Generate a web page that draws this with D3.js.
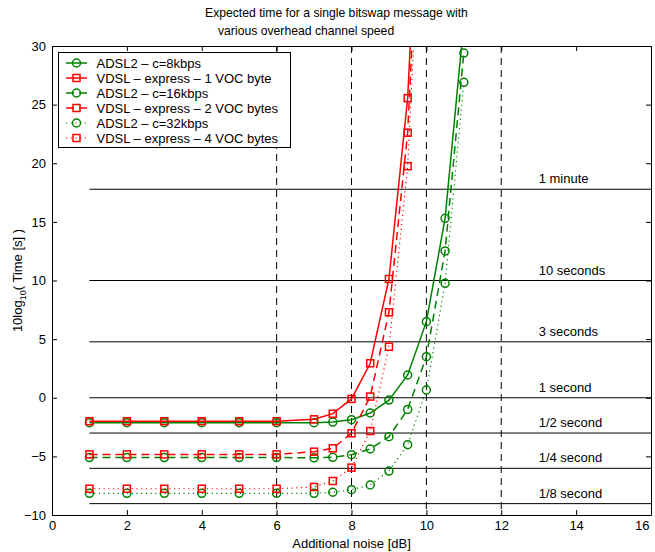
<!DOCTYPE html>
<html lang="en">
<head>
<meta charset="UTF-8">
<title>Expected time for a single bitswap message</title>
<style>
  body { margin: 0; background: #fff; }
  svg { display: block; font-family: "Liberation Sans", Arial, sans-serif; }
  .axis text { font-size: 13px; fill: #000; }
  .axis path, .axis line { stroke: #000; }
</style>
</head>
<body>
<svg id="chart"></svg>
<script src="https://d3js.org/d3.v7.min.js"></script>
<script>
// noise points (dB)
const adslNoise = [1, 2, 3, 4, 5, 6, 7, 7.5, 8, 8.5, 9, 9.5, 10, 10.5, 11];
const vdslNoise = [1, 2, 3, 4, 5, 6, 7, 7.5, 8, 8.5, 9, 9.5, 10];

// 10log10(time) values
const adsl8k  = [-2.13, -2.13, -2.13, -2.13, -2.13, -2.13, -2.13, -2.07, -1.87, -1.3, -0.2, 1.94, 6.49, 15.3, 32];
const adsl16k = [-5.1, -5.1, -5.1, -5.1, -5.1, -5.1, -5.12, -5.08, -4.86, -4.37, -3.32, -1.0, 3.5, 12.52, 29.4];
const adsl32k = [-8.15, -8.15, -8.15, -8.15, -8.15, -8.15, -8.15, -8.06, -7.84, -7.44, -6.25, -4.0, 0.66, 9.76, 26.9];
const vdsl1 = [-2.0, -2.0, -2.0, -2.0, -2.0, -2.0, -1.84, -1.36, -0.1, 2.94, 10.13, 25.55, 58];
const vdsl2 = [-4.83, -4.83, -4.83, -4.83, -4.83, -4.83, -4.6, -4.31, -3.03, 0.1, 7.29, 22.6, 55];
const vdsl4 = [-7.76, -7.76, -7.76, -7.76, -7.76, -7.76, -7.61, -7.1, -5.96, -2.84, 4.35, 19.75, 52];

const seriesNames = [
  'ADSL2 \u2013 c=8kbps',
  'VDSL \u2013 express \u2013 1 VOC byte',
  'ADSL2 \u2013 c=16kbps',
  'VDSL \u2013 express \u2013 2 VOC bytes',
  'ADSL2 \u2013 c=32kbps',
  'VDSL \u2013 express \u2013 4 VOC bytes'
];

// reference times
const refLabels = ['1 minute', '10 seconds', '3 seconds', '1 second', '1/2 second', '1/4 second', '1/8 second'];
const refSeconds = [60, 10, 3, 1, 0.5, 0.25, 0.125];
const refStart = 1;
const refLabelX = 13;

const vLines = [6, 8, 10, 12];

const xTicks = [0, 2, 4, 6, 8, 10, 12, 14, 16];
const yTicks = [-10, -5, 0, 5, 10, 15, 20, 25, 30];

const width = 655, height = 552;
const margin = { top: 46, right: 4, bottom: 37, left: 52 };
const green = '#008000', red = '#ff0000';

const svg = d3.select('#chart').attr('width', width).attr('height', height);

const x = d3.scaleLinear().domain([0, 16]).range([margin.left, width - margin.right]);
const y = d3.scaleLinear().domain([-10, 30]).range([height - margin.bottom, margin.top]);

svg.append('defs').append('clipPath').attr('id', 'plot')
  .append('rect')
  .attr('x', x(0)).attr('y', y(30))
  .attr('width', x(16) - x(0)).attr('height', y(-10) - y(30));

// dashed vertical lines
svg.append('g').selectAll('line').data(vLines).enter().append('line')
  .attr('x1', d => x(d)).attr('x2', d => x(d))
  .attr('y1', y(30)).attr('y2', y(-10))
  .attr('stroke', '#000').attr('stroke-width', 1)
  .attr('stroke-dasharray', '7,5');

// horizontal reference lines
const refs = refSeconds.map((s, i) => ({ v: 10 * Math.log10(s), label: refLabels[i] }));
const refG = svg.append('g');
refG.selectAll('line').data(refs).enter().append('line')
  .attr('x1', x(refStart)).attr('x2', x(16))
  .attr('y1', d => y(d.v)).attr('y2', d => y(d.v))
  .attr('stroke', '#000').attr('stroke-width', 1);
refG.selectAll('text').data(refs).enter().append('text')
  .attr('x', x(refLabelX)).attr('y', d => y(d.v) - 6)
  .attr('font-size', 13)
  .text(d => d.label);

// series
const series = [
  { name: seriesNames[0], xs: adslNoise, ys: adsl8k,  color: green, dash: null, marker: 'circle' },
  { name: seriesNames[1], xs: vdslNoise, ys: vdsl1,   color: red,   dash: null, marker: 'square' },
  { name: seriesNames[2], xs: adslNoise, ys: adsl16k, color: green, dash: '8,5', marker: 'circle' },
  { name: seriesNames[3], xs: vdslNoise, ys: vdsl2,   color: red,   dash: '8,5', marker: 'square' },
  { name: seriesNames[4], xs: adslNoise, ys: adsl32k, color: green, dash: '1.2,3.5', marker: 'circle' },
  { name: seriesNames[5], xs: vdslNoise, ys: vdsl4,   color: red,   dash: '1.2,3.5', marker: 'square' }
];

const line = d3.line().x(d => x(d[0])).y(d => y(d[1]));

function drawMarker(g, type, cx, cy, color) {
  if (type === 'circle') {
    g.append('circle').attr('cx', cx).attr('cy', cy).attr('r', 4)
      .attr('fill', 'none').attr('stroke', color).attr('stroke-width', 1.5);
  } else {
    g.append('rect').attr('x', cx - 3.5).attr('y', cy - 3.5)
      .attr('width', 7).attr('height', 7)
      .attr('fill', 'none').attr('stroke', color).attr('stroke-width', 1.5);
  }
}

const plotG = svg.append('g').attr('clip-path', 'url(#plot)');
series.forEach(s => {
  const pts = s.xs.map((v, i) => [v, s.ys[i]]);
  plotG.append('path')
    .attr('d', line(pts))
    .attr('fill', 'none')
    .attr('stroke', s.color)
    .attr('stroke-width', s.dash && s.dash.startsWith('1.2') ? 1.2 : 1.5)
    .attr('stroke-dasharray', s.dash);
  const mg = plotG.append('g');
  pts.filter(p => p[1] <= 30).forEach(p => drawMarker(mg, s.marker, x(p[0]), y(p[1]), s.color));
});

// axes box with inward ticks
const xAxisG = svg.append('g').attr('class', 'axis')
  .attr('transform', `translate(0,${y(-10)})`)
  .call(d3.axisBottom(x).tickValues(xTicks).tickSize(-5).tickPadding(6).tickSizeOuter(0));
// last label pulled in so it stays inside the window
xAxisG.selectAll('.tick text').filter(d => d === 16).attr('text-anchor', 'end').attr('dx', -2);
svg.append('g').attr('class', 'axis')
  .attr('transform', `translate(0,${y(30)})`)
  .call(d3.axisTop(x).tickValues(xTicks).tickSize(-5).tickFormat('').tickSizeOuter(0));
svg.append('g').attr('class', 'axis')
  .attr('transform', `translate(${x(0)},0)`)
  .call(d3.axisLeft(y).tickValues(yTicks).tickSize(-5).tickPadding(6).tickSizeOuter(0));
svg.append('g').attr('class', 'axis')
  .attr('transform', `translate(${x(16)},0)`)
  .call(d3.axisRight(y).tickValues(yTicks).tickSize(-5).tickFormat('').tickSizeOuter(0));
svg.selectAll('.axis .domain').attr('stroke-width', 1);

// axis labels
svg.append('text')
  .attr('x', (x(0) + x(16)) / 2).attr('y', 548)
  .attr('text-anchor', 'middle').attr('font-size', 13)
  .text('Additional noise [dB]');

const yl = svg.append('text')
  .attr('transform', `translate(22,${(y(30) + y(-10)) / 2}) rotate(-90)`)
  .attr('text-anchor', 'middle').attr('font-size', 13);
yl.append('tspan').text('10log');
yl.append('tspan').attr('font-size', 9).attr('dy', 4).text('10');
yl.append('tspan').attr('dy', -4).text('( Time [s] )');

// title
svg.append('text').attr('x', 205).attr('y', 17).attr('font-size', 12.2)
  .text('Expected time for a single bitswap message with');
svg.append('text').attr('x', 218).attr('y', 35).attr('font-size', 12.2)
  .text('various overhead channel speed');

// legend
const lg = svg.append('g');
lg.append('rect').attr('x', 58.5).attr('y', 52.5).attr('width', 232).attr('height', 95)
  .attr('fill', '#fff').attr('stroke', '#000').attr('stroke-width', 1);
series.forEach((s, i) => {
  const ly = 63 + i * 15;
  lg.append('line').attr('x1', 66).attr('x2', 87).attr('y1', ly).attr('y2', ly)
    .attr('stroke', s.color)
    .attr('stroke-width', s.dash && s.dash.startsWith('1.2') ? 1.2 : 1.5)
    .attr('stroke-dasharray', s.dash);
  drawMarker(lg, s.marker, 76.5, ly, s.color);
  lg.append('text').attr('x', 96.5).attr('y', ly).attr('dy', '0.36em')
    .attr('font-size', 13).text(s.name);
});
</script>
</body>
</html>
